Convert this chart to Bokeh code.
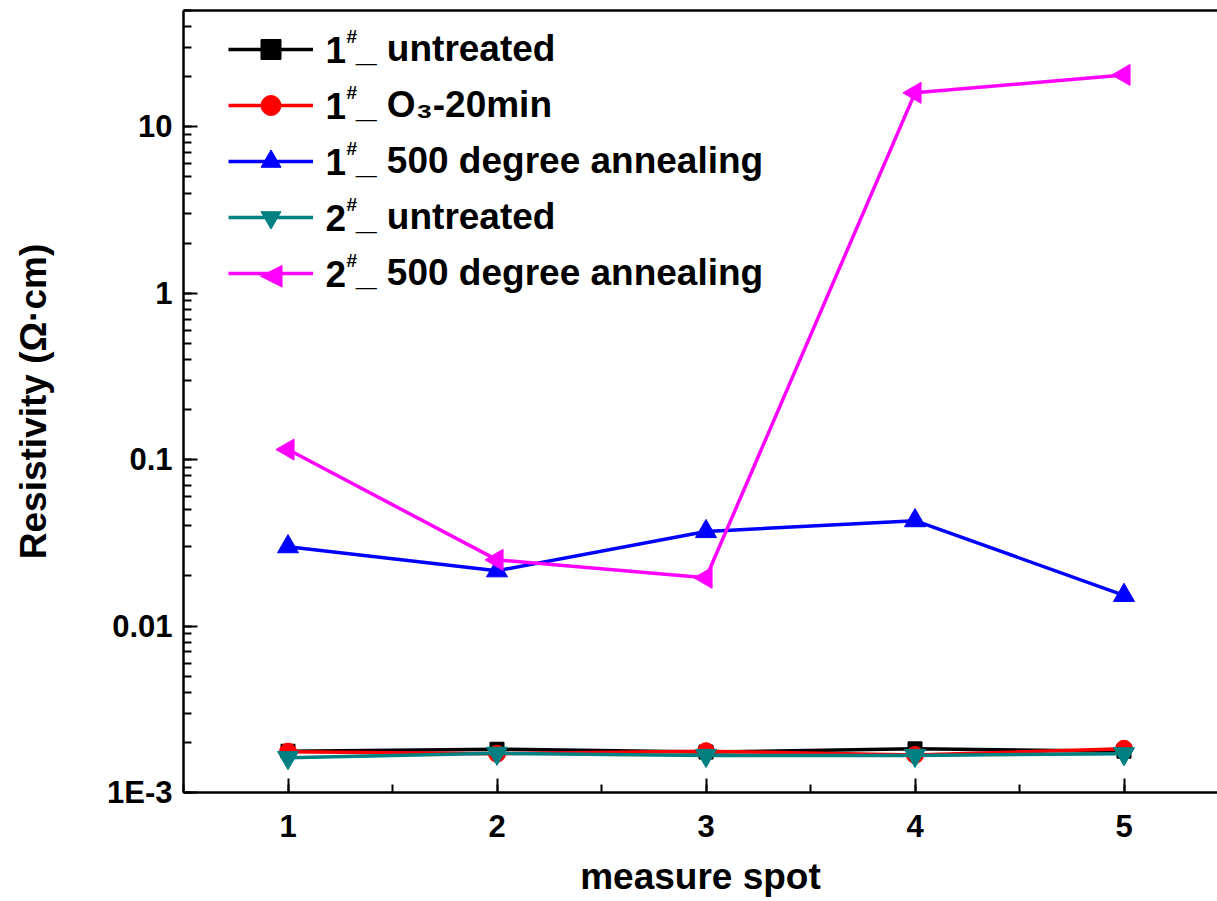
import math
from bokeh.plotting import figure
from bokeh.models import (Range1d, LinearAxis, FixedTicker, SingleIntervalTicker, LogTicker,
                          CustomJSTickFormatter, Legend, LegendItem, Label)
from bokeh.embed import file_html
from bokeh.resources import INLINE

# ---------------- data ----------------
spots = [1, 2, 3, 4, 5]
untreated_1 = [0.00177, 0.00182, 0.00175, 0.00183, 0.00177]
o3_20min_1 = [0.00176, 0.00171, 0.00177, 0.00168, 0.00183]
anneal500_1 = [0.0300, 0.0215, 0.0370, 0.0430, 0.0153]
untreated_2 = [0.00162, 0.00172, 0.00167, 0.00167, 0.00171]
anneal500_2 = [0.115, 0.0250, 0.0195, 16.0, 20.5]

series_nums = ["1", "1", "1", "2", "2"]
series_rest = ["_ untreated", "_ O\u2083-20min", "_ 500 degree annealing", "_ untreated", "_ 500 degree annealing"]
x_title = "measure spot"
y_title = "Resistivity (\u03a9\u00b7cm)"

# ---------------- layout ----------------
W, H = 1217, 901
BL, BT, BB = 183, 10, 109
FONT = "Liberation Sans"

p = figure(width=W, height=H, output_backend="svg", toolbar_location=None,
           y_axis_type="log",
           x_range=Range1d(0.5, 0.5 + (W - BL) / 209.0),
           y_range=Range1d(1e-3, 50),
           min_border_left=BL, min_border_right=0, min_border_top=BT, min_border_bottom=BB,
           background_fill_color="white", border_fill_color="white")
p.outline_line_color = None
p.xgrid.visible = False
p.ygrid.visible = False

# x axis
xa = p.xaxis[0]
xa.ticker = SingleIntervalTicker(interval=1, num_minor_ticks=2)
# y axis
ya = p.yaxis[0]
ya.ticker = LogTicker(num_minor_ticks=10)
ya.formatter = CustomJSTickFormatter(code="""
if (Math.abs(tick - 0.001) < 1e-9) { return "1E-3"; }
return String(Number(tick.toPrecision(6)));
""")

for ax in (xa, ya):
    ax.axis_line_width = 2.5
    ax.axis_line_color = "black"
    ax.major_tick_in = 14
    ax.major_tick_out = 0
    ax.minor_tick_in = 8
    ax.minor_tick_out = 0
    ax.major_tick_line_width = 2
    ax.minor_tick_line_width = 2
    ax.major_label_text_font = FONT
    ax.major_label_text_font_style = "bold"
    ax.major_label_text_font_size = "31px"
    ax.major_label_text_color = "black"
    ax.axis_label_text_font = FONT
    ax.axis_label_text_font_style = "bold"
    ax.axis_label_text_font_size = "37px"
    ax.axis_label_text_color = "black"

xa.axis_label = x_title
xa.major_label_standoff = 22
xa.axis_label_standoff = 16
ya.axis_label = y_title
ya.major_label_standoff = 11
ya.axis_label_standoff = 50

top_axis = LinearAxis(ticker=FixedTicker(ticks=[]), axis_line_width=2.5,
                      major_tick_in=0, major_tick_out=0, minor_tick_in=0, minor_tick_out=0,
                      major_label_standoff=0)
p.add_layout(top_axis, "above")

# ---------------- series ----------------
specs = [
    (untreated_1, "black", "square", 14, 0.0),
    (o3_20min_1, "#ff0000", "circle", 17, 0.0),
    (anneal500_1, "#0000ff", "triangle", 21, 0.0),
    (untreated_2, "#008080", "inverted_triangle", 21, 0.0),
    (anneal500_2, "#ff00ff", "triangle", 21, math.pi / 2),
]

items = []
for (vals, col, mk, sz, ang), rest in zip(specs, series_rest):
    lr = p.line(spots, vals, line_color=col, line_width=3.5)
    sr = p.scatter(spots, vals, marker=mk, size=sz, angle=ang,
                   fill_color=col, line_color=col)
    # legend draws markers unrotated; the left-pointing one is added as a label below
    rends = [lr] if ang else [lr, sr]
    items.append(LegendItem(label=rest, renderers=rends))

# ---------------- legend ----------------
ROW_H, ROW_GAP = 50, 6
LEG_TOP = 24            # screen y of first row top
LEG_LEFT = 228          # screen x of legend glyph start
GLYPH_W = 85
frame_h = H - BT - BB
n = len(items)
leg_h = n * ROW_H + (n - 1) * ROW_GAP
legend = Legend(items=items, location=(LEG_LEFT - BL, frame_h - (LEG_TOP - BT) - leg_h),
                padding=0, margin=0, spacing=ROW_GAP,
                glyph_width=GLYPH_W, glyph_height=ROW_H, label_height=ROW_H,
                label_standoff=43,
                label_text_font=FONT, label_text_font_style="bold",
                label_text_font_size="37px", label_text_color="black",
                border_line_alpha=0, background_fill_alpha=0)
p.add_layout(legend, "center")

for i, num in enumerate(series_nums):
    cy = (LEG_TOP - BT) + i * (ROW_H + ROW_GAP) + ROW_H / 2
    yy = frame_h - cy
    p.add_layout(Label(x=325 - BL, y=yy, x_units="screen", y_units="screen", text=num,
                       text_font=FONT, text_font_style="bold", text_font_size="37px",
                       text_baseline="middle", text_align="left", text_color="black"))
    p.add_layout(Label(x=346 - BL, y=yy + 13, x_units="screen", y_units="screen", text="#",
                       text_font=FONT, text_font_style="bold", text_font_size="19px",
                       text_baseline="middle", text_align="left", text_color="black"))
    if specs[i][4]:
        p.add_layout(Label(x=LEG_LEFT - BL + GLYPH_W / 2, y=yy, x_units="screen", y_units="screen",
                           text="\u25c0", text_font="DejaVu Sans", text_font_size="30px",
                           text_baseline="middle", text_align="center", text_color=specs[i][1]))

open("out.html", "w").write(file_html(p, INLINE))
